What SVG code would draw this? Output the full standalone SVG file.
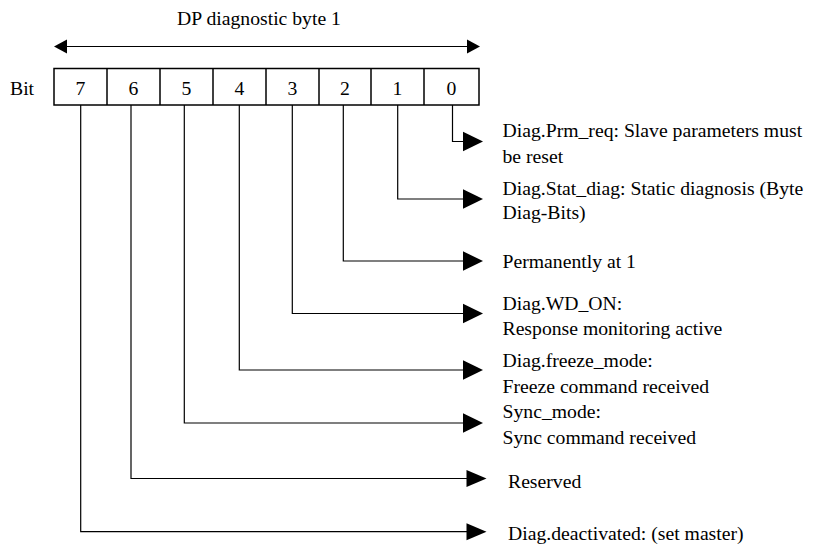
<svg xmlns="http://www.w3.org/2000/svg" width="818" height="547" viewBox="0 0 818 547">
<style>
.box{fill:#fff;stroke:#000;stroke-width:1.5}
</style>
<rect width="818" height="547" fill="#fff"/>
<g font-family="Liberation Serif, Times New Roman, serif" font-size="19.7" fill="#000">
<g id="title">
<text x="259" y="25" text-anchor="middle">DP diagnostic byte 1</text>
<line x1="64" y1="46.5" x2="470" y2="46.5" stroke="#000" stroke-width="1.2"/>
<polygon points="54,46.5 67,39.5 67,53.5"/>
<polygon points="480,46.5 467,39.5 467,53.5"/>
</g>
<g id="register">
<text x="10" y="95">Bit</text>
<rect class="box" x="54" y="68.5" width="425" height="36.5" fill="#fff" stroke="#000" stroke-width="1.5"/>
<g stroke="#000" stroke-width="1.5">
<line x1="107" y1="68.5" x2="107" y2="105"/>
<line x1="160" y1="68.5" x2="160" y2="105"/>
<line x1="213" y1="68.5" x2="213" y2="105"/>
<line x1="266" y1="68.5" x2="266" y2="105"/>
<line x1="319" y1="68.5" x2="319" y2="105"/>
<line x1="371" y1="68.5" x2="371" y2="105"/>
<line x1="424" y1="68.5" x2="424" y2="105"/>
</g>
<g text-anchor="middle">
<text x="80.5" y="95">7</text>
<text x="133.5" y="95">6</text>
<text x="186.5" y="95">5</text>
<text x="239.5" y="95">4</text>
<text x="292.5" y="95">3</text>
<text x="345" y="95">2</text>
<text x="397.5" y="95">1</text>
<text x="451.5" y="95">0</text>
</g>
</g>
<g id="connectors" stroke="#000" stroke-width="1.2">
<g fill="none">
<polyline points="452.5,105 452.5,141.5 465,141.5"/>
<polyline points="397.7,105 397.7,199 465,199"/>
<polyline points="343.3,105 343.3,261 465,261"/>
<polyline points="292.3,105 292.3,313.5 465,313.5"/>
<polyline points="239.3,105 239.3,370 465,370"/>
<polyline points="184.3,105 184.3,423 465,423"/>
<polyline points="131,105 131,478.5 468,478.5"/>
<polyline points="80.7,105 80.7,531.7 468,531.7"/>
</g>
<g fill="#000" stroke="none">
<polygon points="483,141.5 463,131.8 463,151.2"/>
<polygon points="483,199 463,189.3 463,208.7"/>
<polygon points="483,261 463,251.3 463,270.7"/>
<polygon points="483,313.5 463,303.8 463,323.2"/>
<polygon points="483,370 463,360.3 463,379.7"/>
<polygon points="483,423 463,413.3 463,432.7"/>
<polygon points="486.5,478.5 466.5,470 466.5,487"/>
<polygon points="486.5,531.7 466.5,523.2 466.5,540.2"/>
</g>
</g>
<g id="bit0"><text x="502.5" y="137.3">Diag.Prm_req: Slave parameters must</text><text x="502.5" y="163.3">be reset</text></g>
<g id="bit1"><text x="502.5" y="195">Diag.Stat_diag: Static diagnosis (Byte</text><text x="502.5" y="218.5">Diag-Bits)</text></g>
<g id="bit2"><text x="502.5" y="268">Permanently at 1</text></g>
<g id="bit3"><text x="502.5" y="310">Diag.WD_ON:</text><text x="502.5" y="335">Response monitoring active</text></g>
<g id="bit4"><text x="502.5" y="366.7">Diag.freeze_mode:</text><text x="502.5" y="393">Freeze command received</text></g>
<g id="bit5"><text x="502.5" y="418.3">Sync_mode:</text><text x="502.5" y="443.5">Sync command received</text></g>
<g id="bit6"><text x="508" y="488">Reserved</text></g>
<g id="bit7"><text x="508" y="540">Diag.deactivated: (set master)</text></g>
</g>
</svg>
